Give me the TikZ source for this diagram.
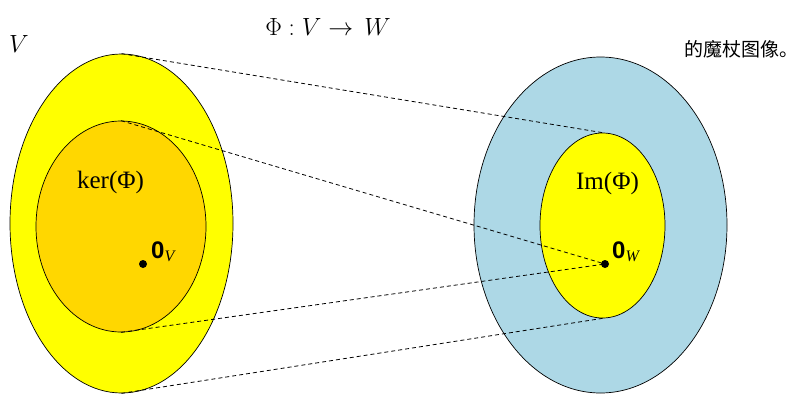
\documentclass[tikz,border=0pt]{standalone}
\usepackage{amsmath,amssymb}
\usepackage{fontspec}
\usepackage{tikz}
\usetikzlibrary{shapes.geometric,positioning}
\usepackage{xcolor}
\newfontfamily\cjkfont{Noto Sans CJK SC}
\newfontfamily\setfont{Liberation Serif}
\newfontfamily\zerofont{Liberation Sans}
\definecolor{kergold}{HTML}{FFD700}
\definecolor{imblue}{HTML}{ADD8E6}
\definecolor{setyellow}{HTML}{FFFF00}

\begin{document}
\begin{tikzpicture}[x=1pt, y=-1pt,
  blob/.style={ellipse, draw, line width=0.7pt, inner sep=0pt},
  mapline/.style={dashed, dash pattern=on 4pt off 3pt, line width=0.8pt},
  origin/.style={circle, fill=black, inner sep=0pt, minimum size=8pt},
  setlabel/.style={font=\fontsize{25}{28}\selectfont\setfont}]
\useasboundingbox (0,0) rectangle (801,394);
% domain V and its kernel
\node[blob, fill=setyellow, minimum width=223pt, minimum height=339pt] (spaceV) at (121.5,223.5) {};
\node[blob, fill=kergold, minimum width=170pt, minimum height=211pt] (kernel) at (121,226.5) {};
% codomain W and the image
\node[blob, fill=imblue, minimum width=253pt, minimum height=336pt] (spaceW) at (600.5,225) {};
\node[blob, fill=setyellow, minimum width=125pt, minimum height=185pt] (image) at (602.5,225.5) {};
% zero vectors
\node[origin] (zeroV) at (143,264) {};
\node[origin] (zeroW) at (605,264) {};
% dashed correspondences
\draw[mapline] (spaceV.north) -- (image.north);
\draw[mapline] (kernel.north) -- (zeroW.center);
\draw[mapline] (kernel.south) -- (zeroW.center);
\draw[mapline] (spaceV.south) -- (image.south);
% labels
\node[setlabel] (kerlbl) at (110.5,182) {ker(Φ)};
\node[setlabel] (imlbl) at (607.5,183) {Im(Φ)};
\node[anchor=base west, inner sep=0pt] (zeroVlbl) at (151,258)
  {\fontsize{24}{26}\selectfont\zerofont\bfseries 0\raisebox{-3pt}{\fontsize{16}{17}\selectfont\setfont\mdseries\itshape V}};
\node[anchor=base west, inner sep=0pt] (zeroWlbl) at (612,258)
  {\fontsize{24}{26}\selectfont\zerofont\bfseries 0\raisebox{-3pt}{\fontsize{16}{17}\selectfont\setfont\mdseries\itshape W}};
\node[font=\fontsize{26}{28}\selectfont] (vlbl) at (19,44) {$V$};
\node[font=\fontsize{26}{28}\selectfont] (title) at (328,27) {$\Phi : V \rightarrow\, W$};
\node[font=\fontsize{19}{21}\selectfont\cjkfont] (note) at (741,49) {的魔杖图像。};
\end{tikzpicture}
\end{document}
